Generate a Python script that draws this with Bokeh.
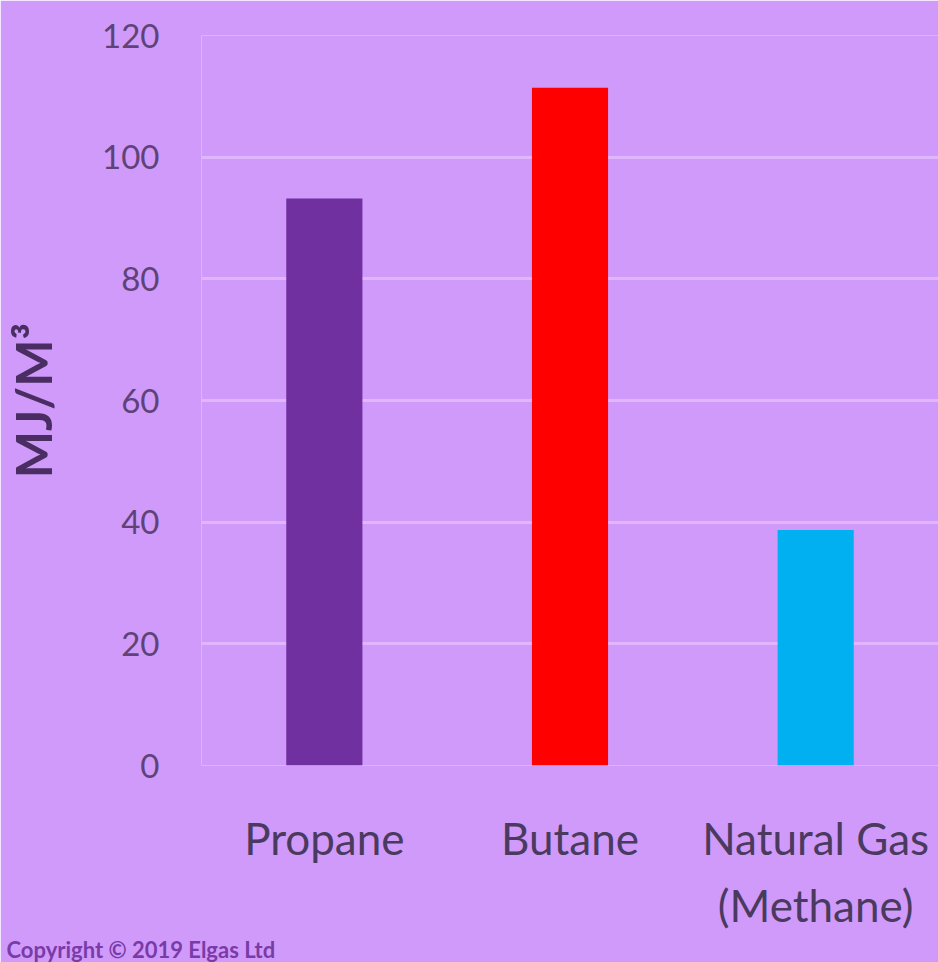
import json
from bokeh.plotting import figure
from bokeh.models import Range1d, FixedTicker, CategoricalAxis, CustomJSTickFormatter, Title
from bokeh.embed import file_html
from bokeh.resources import INLINE

categories = ["Propane", "Butane", "Natural Gas"]
second_line = {"Natural Gas": "(Methane)"}
values = [93.2, 111.4, 38.7]
colors = ["#7030a0", "#ff0000", "#00b0f0"]
y_ticks = [0, 20, 40, 60, 80, 100, 120]
copyright_text = "Copyright © 2019 Elgas Ltd"

BG = "#d09afa"
LABEL_COLOR = "#4a3a60"

p = figure(x_range=categories, y_range=Range1d(0, 120), width=938, height=962,
           output_backend="svg", toolbar_location=None,
           min_border_left=200, min_border_right=0, min_border_top=35, min_border_bottom=182)
p.background_fill_color = BG
p.border_fill_color = BG
p.outline_line_color = None

p.vbar(x=categories, top=values, width=0.31, color=colors, line_color=None)

p.xgrid.grid_line_color = None
p.ygrid.grid_line_color = "#e2b6ff"
p.ygrid.grid_line_width = 3
p.ygrid.ticker = FixedTicker(ticks=y_ticks)

ya = p.yaxis[0]
ya.ticker = FixedTicker(ticks=y_ticks)
ya.axis_line_color = None
ya.major_tick_line_color = None
ya.minor_tick_line_color = None
ya.major_label_text_font = "Lato"
ya.major_label_text_font_size = "33px"
ya.major_label_text_color = "#5e4278"
ya.major_label_standoff = 36
ya.axis_label = "MJ/M³"
ya.axis_label_text_font = "Lato"
ya.axis_label_text_font_style = "bold"
ya.axis_label_text_font_size = "50px"
ya.axis_label_text_color = "#4a2d63"
ya.axis_label_standoff = 36


def style_x(ax, standoff):
    ax.axis_line_color = None
    ax.major_tick_line_color = None
    ax.minor_tick_line_color = None
    ax.major_label_text_font = "Lato"
    ax.major_label_text_font_size = "44px"
    ax.major_label_text_color = LABEL_COLOR
    ax.major_label_standoff = standoff


style_x(p.xaxis[0], 40)
ax2 = CategoricalAxis(formatter=CustomJSTickFormatter(
    code="const m = %s; return (tick in m) ? m[tick] : ' ';" % json.dumps(second_line)))
style_x(ax2, 6)
p.add_layout(ax2, "below")

p.add_layout(Title(text=copyright_text, align="left", offset=-195, standoff=0,
                   text_font="Lato", text_font_size="22px", text_font_style="bold",
                   text_color="#7a3aa8"), "below")

open("out.html", "w").write(file_html(p, INLINE))
